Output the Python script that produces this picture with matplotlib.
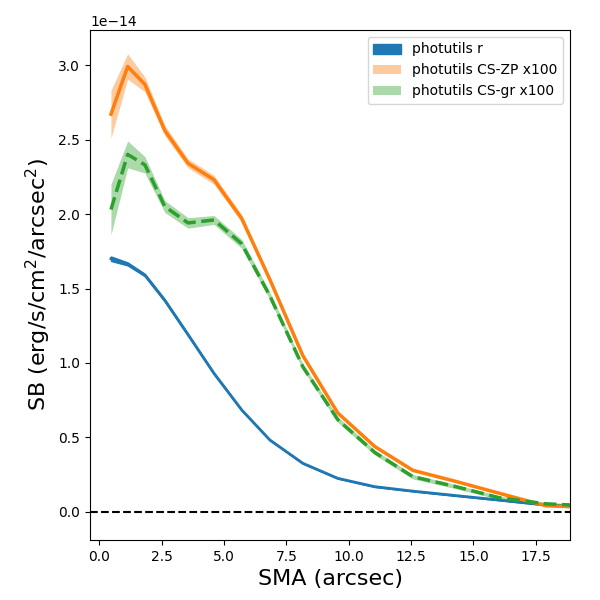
import numpy as np
import matplotlib
matplotlib.use('Agg')
import matplotlib.pyplot as plt

# SMA grid (arcsec)
sma = [0.47, 1.14, 1.83, 2.63, 3.56, 4.60, 5.71, 6.84, 8.16, 9.56,
       11.04, 12.57, 14.30, 16.05, 17.90, 19.80]

# surface brightness, units of 1e-14 erg/s/cm2/arcsec2
sb_r = [1.70, 1.665, 1.59, 1.42, 1.19, 0.93, 0.685, 0.483, 0.327, 0.226,
        0.17, 0.14, 0.11, 0.08, 0.047, 0.035]
sb_r_err = [0.015, 0.01, 0.008, 0.007, 0.006, 0.005, 0.004, 0.003, 0.003, 0.002,
            0.002, 0.002, 0.002, 0.002, 0.002, 0.002]

sb_zp = [2.67, 2.99, 2.87, 2.56, 2.34, 2.23, 1.97, 1.56, 1.05, 0.665,
         0.44, 0.28, 0.205, 0.125, 0.042, 0.03]
sb_zp_err = [0.16, 0.085, 0.05, 0.035, 0.03, 0.03, 0.025, 0.02, 0.015, 0.012,
             0.01, 0.01, 0.008, 0.007, 0.006, 0.006]

sb_gr = [2.03, 2.40, 2.33, 2.05, 1.94, 1.96, 1.80, 1.45, 0.975, 0.62,
         0.40, 0.237, 0.17, 0.095, 0.055, 0.04]
sb_gr_err = [0.17, 0.09, 0.055, 0.04, 0.035, 0.03, 0.03, 0.025, 0.02, 0.018,
             0.016, 0.015, 0.014, 0.012, 0.01, 0.01]

scale = 1e-14
x = np.array(sma)
r = np.array(sb_r) * scale
zp = np.array(sb_zp) * scale
gr = np.array(sb_gr) * scale
r_e = np.array(sb_r_err) * scale
zp_e = np.array(sb_zp_err) * scale
gr_e = np.array(sb_gr_err) * scale

fig = plt.figure(figsize=(6, 6), dpi=100)
ax = fig.add_axes([0.15, 0.1, 0.8, 0.85])

ax.fill_between(x, r - r_e, r + r_e, color='tab:blue', label='photutils r')
ax.plot(x, r, color='tab:blue', lw=2)

ax.fill_between(x, zp - zp_e, zp + zp_e, color='tab:orange', alpha=0.4,
                lw=0, label='photutils CS-ZP x100')
ax.plot(x, zp, color='tab:orange', lw=2.5)

ax.fill_between(x, gr - gr_e, gr + gr_e, color='tab:green', alpha=0.4,
                lw=0, label='photutils CS-gr x100')
ax.plot(x, gr, color='tab:green', lw=2.5, ls='--')

ax.axhline(0, color='k', ls='--', lw=1.5)

ax.set_xlim(-0.37, 18.87)
ax.set_ylim(-0.188e-14, 3.235e-14)
ax.set_xlabel('SMA (arcsec)', fontsize=16)
ax.set_ylabel('SB (erg/s/cm$^2$/arcsec$^2$)', fontsize=16)
ax.legend(loc='upper right')

fig.savefig('out.png', dpi=100)
